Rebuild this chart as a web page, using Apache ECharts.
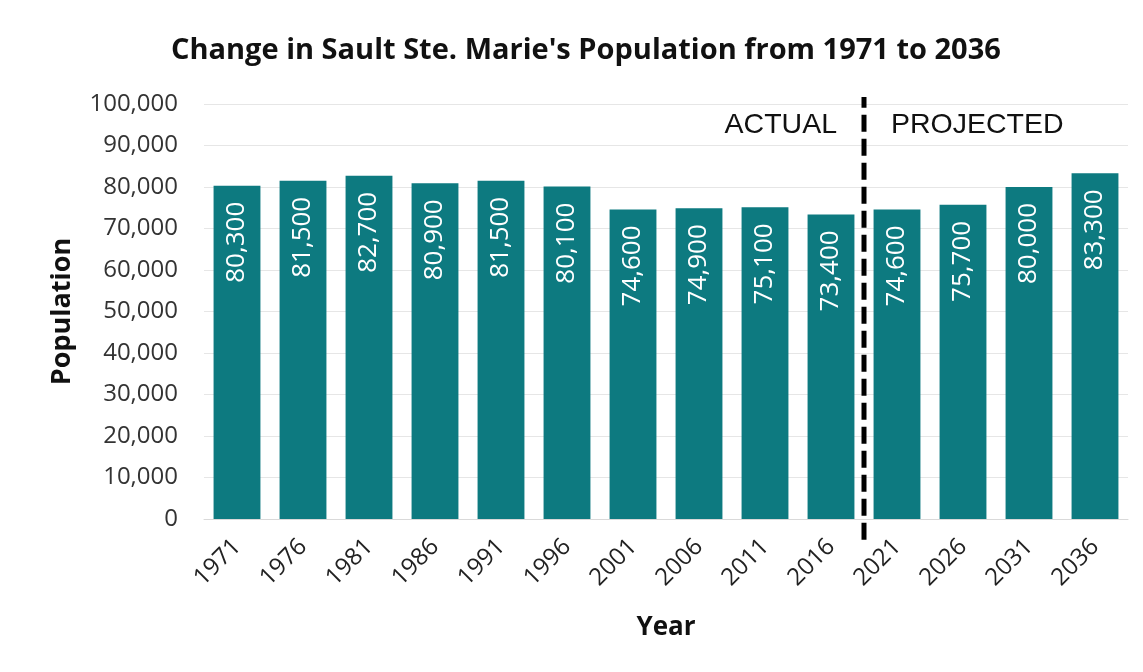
<!DOCTYPE html>
<html>
<head>
<meta charset="utf-8">
<script src="https://cdn.jsdelivr.net/npm/echarts@6/dist/echarts.min.js"></script>
<style>
  html, body { margin: 0; padding: 0; background: #ffffff; }
  #chart { width: 1143px; height: 672px; }
</style>
</head>
<body>
<div id="chart"></div>
<script>
// Census years and population (actual to 2016, projected from 2021)
const years = ['1971', '1976', '1981', '1986', '1991', '1996', '2001', '2006', '2011', '2016', '2021', '2026', '2031', '2036'];
const population = [80300, 81500, 82700, 80900, 81500, 80100, 74600, 74900, 75100, 73400, 74600, 75700, 80000, 83300];

// Divider between the actual and projected periods (category-index position, population extent)
const dividerPoints = [[9.5, -5000], [9.5, 101700]];

const FONT = '"Open Sans", "Noto Sans", sans-serif';
const TEAL = '#0d7a80';

const chart = echarts.init(document.getElementById('chart'), null, { renderer: 'canvas' });

chart.setOption({
  backgroundColor: '#ffffff',
  animation: false,
  title: {
    text: "Change in Sault Ste. Marie's Population from 1971 to 2036",
    left: 166,
    top: 31,
    textStyle: { fontFamily: FONT, fontSize: 29, fontWeight: 'bold', color: '#111111' }
  },
  grid: { left: 204, right: 15, top: 104, bottom: 153 },
  xAxis: [
    {
      type: 'category',
      data: years,
      name: 'Year',
      nameLocation: 'middle',
      nameGap: 96,
      nameTextStyle: { fontFamily: FONT, fontSize: 26, fontWeight: 'bold', color: '#111111' },
      axisLine: { lineStyle: { color: '#d9d9d9', width: 1 } },
      axisTick: { show: false },
      axisLabel: { rotate: 45, fontFamily: FONT, fontSize: 24, color: '#222222', margin: 24, interval: 0 }
    },
    {
      type: 'value',
      min: -0.5,
      max: 13.5,
      show: false
    }
  ],
  yAxis: {
    type: 'value',
    min: 0,
    max: 100000,
    interval: 10000,
    name: 'Population',
    nameLocation: 'middle',
    nameGap: 128,
    nameRotate: 90,
    nameTextStyle: { fontFamily: FONT, fontSize: 27, fontWeight: 'bold', color: '#111111' },
    axisLine: { show: false },
    axisTick: { show: false },
    axisLabel: {
      fontFamily: FONT, fontSize: 24, color: '#333333', margin: 26,
      formatter: v => v.toLocaleString('en-US')
    },
    splitLine: { lineStyle: { color: '#e6e6e6', width: 1 } }
  },
  series: [
    {
      type: 'bar',
      data: population,
      barCategoryGap: '29%',
      itemStyle: { color: TEAL },
      label: {
        show: true,
        position: 'insideTop',
        rotate: 90,
        align: 'right',
        verticalAlign: 'middle',
        distance: 16,
        fontFamily: FONT,
        fontSize: 26,
        color: '#ffffff',
        formatter: p => p.value.toLocaleString('en-US')
      }
    },
    {
      type: 'line',
      xAxisIndex: 1,
      data: dividerPoints,
      clip: false,
      symbol: 'none',
      silent: true,
      z: 5,
      lineStyle: { color: '#000000', width: 5, type: [17, 7] }
    }
  ],
  graphic: [
    {
      type: 'text',
      right: 1143 - 837,
      top: 111,
      style: { text: 'ACTUAL', fontFamily: '"Liberation Sans", Arial, sans-serif', fontSize: 28.5, fill: '#111111' }
    },
    {
      type: 'text',
      left: 891,
      top: 111,
      style: { text: 'PROJECTED', fontFamily: '"Liberation Sans", Arial, sans-serif', fontSize: 28.5, fill: '#111111' }
    }
  ]
});
</script>
</body>
</html>
